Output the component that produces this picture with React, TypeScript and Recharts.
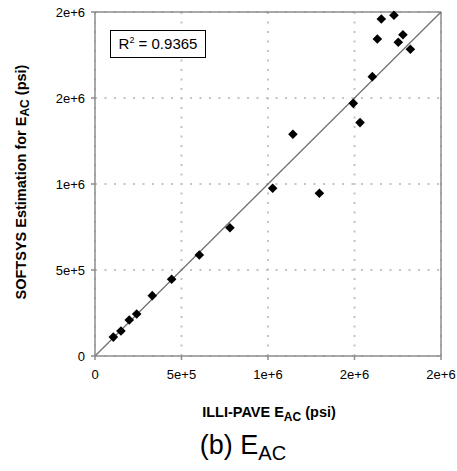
import React from "react";
import {
  ScatterChart,
  Scatter,
  XAxis,
  YAxis,
  CartesianGrid,
  ReferenceLine,
  Label
} from "recharts";

// ILLI-PAVE E_AC vs SOFTSYS estimation (psi)
const illiPave = [
  106000, 150000, 198000, 241000, 331000, 443000, 603000, 780000, 1027000, 1297000,
  1144000, 1493000, 1532000, 1603000, 1632000, 1655000, 1728000, 1753000, 1780000, 1823000
];
const softsys = [
  110000, 145000, 209000, 244000, 351000, 446000, 587000, 746000, 975000, 946000,
  1289000, 1469000, 1357000, 1624000, 1843000, 1959000, 1981000, 1824000, 1868000, 1783000
];

const tickValues = [0, 500000, 1000000, 1500000, 2000000];
const tickLabels = ["0", "5e+5", "1e+6", "2e+6", "2e+6"];
const axisMax = 2000000;
const r2Text = "0.9365";

const data = illiPave.map((x, i) => ({ x, y: softsys[i] }));

const FONT = "'Liberation Sans', Arial, sans-serif";
const AXIS_COLOR = "#8c8c8c";

const Diamond = (props: any) => {
  const { cx, cy } = props;
  const r = 4.8;
  return (
    <path
      d={`M${cx},${cy - r} L${cx + r},${cy} L${cx},${cy + r} L${cx - r},${cy} Z`}
      fill="#000"
    />
  );
};

const YTitle = (props: any) => {
  const vb = props.viewBox || {};
  const x = vb.x + 21;
  const y = vb.y + vb.height / 2 - 2;
  return (
    <text
      x={x}
      y={y}
      transform={`rotate(-90, ${x}, ${y})`}
      textAnchor="middle"
      dominantBaseline="central"
      fontFamily={FONT}
      fontWeight="bold"
      fontSize={14.5}
      fill="#000"
    >
      SOFTSYS Estimation for E
      <tspan dy={4} fontSize={12}>AC</tspan>
      <tspan dy={-4}> (psi)</tspan>
    </text>
  );
};

const XTitle = (props: any) => {
  const vb = props.viewBox || {};
  const cx = vb.x + vb.width / 2 + 1;
  return (
    <g>
      <text
        x={cx}
        y={vb.y + 61}
        textAnchor="middle"
        fontFamily={FONT}
        fontWeight="bold"
        fontSize={14.5}
        fill="#000"
      >
        ILLI-PAVE E
        <tspan dy={4} fontSize={12}>AC</tspan>
        <tspan dy={-4}> (psi)</tspan>
      </text>
      <text
        x={cx - 26}
        y={vb.y + 98}
        textAnchor="middle"
        fontFamily={FONT}
        fontSize={27}
        fill="#000"
      >
        (b) E
        <tspan dy={6} fontSize={20}>AC</tspan>
      </text>
    </g>
  );
};

export default function App() {
  return (
    <div style={{ position: "absolute", left: 0, top: 0, width: 457, height: 471, background: "#fff" }}>
      <ScatterChart
        width={457}
        height={471}
        margin={{ top: 12, right: 16, bottom: 0, left: 0 }}
      >
        <CartesianGrid
          stroke="#c4c4c4"
          strokeWidth={2}
          strokeDasharray="2 7.5"
        />
        <XAxis
          type="number"
          dataKey="x"
          domain={[0, axisMax]}
          ticks={tickValues}
          tickFormatter={(v: number, i: number) => tickLabels[i]}
          height={115}
          stroke={AXIS_COLOR}
          strokeWidth={1.5}
          tickSize={4}
          tickMargin={10}
          tick={{ fill: "#000", fontSize: 13, fontFamily: FONT }}
          interval={0}
        >
          <Label content={<XTitle />} />
        </XAxis>
        <YAxis
          type="number"
          dataKey="y"
          domain={[0, axisMax]}
          ticks={tickValues}
          tickFormatter={(v: number, i: number) => tickLabels[i]}
          width={95}
          stroke={AXIS_COLOR}
          strokeWidth={1.5}
          tickSize={4}
          tickMargin={6}
          tick={{ fill: "#000", fontSize: 13, fontFamily: FONT }}
          interval={0}
        >
          <Label content={<YTitle />} />
        </YAxis>
        {/* plot border top/right */}
        <ReferenceLine y={axisMax} stroke={AXIS_COLOR} strokeWidth={1.5} />
        <ReferenceLine x={axisMax} stroke={AXIS_COLOR} strokeWidth={1.5} />
        {/* 1:1 line */}
        <ReferenceLine
          segment={[{ x: 0, y: 0 }, { x: axisMax, y: axisMax }]}
          stroke="#6e6e6e"
          strokeWidth={1.2}
        />
        <Scatter data={data} shape={<Diamond />} isAnimationActive={false} />
      </ScatterChart>
      <div
        style={{
          position: "absolute",
          left: 110,
          top: 30,
          width: 94,
          height: 26,
          border: "1px solid #000",
          fontFamily: FONT,
          fontSize: 15,
          lineHeight: "26px",
          textAlign: "center",
          background: "#fff"
        }}
      >
        R<sup style={{ fontSize: 9, verticalAlign: "top", lineHeight: "18px" }}>2</sup> = {r2Text}
      </div>
    </div>
  );
}
